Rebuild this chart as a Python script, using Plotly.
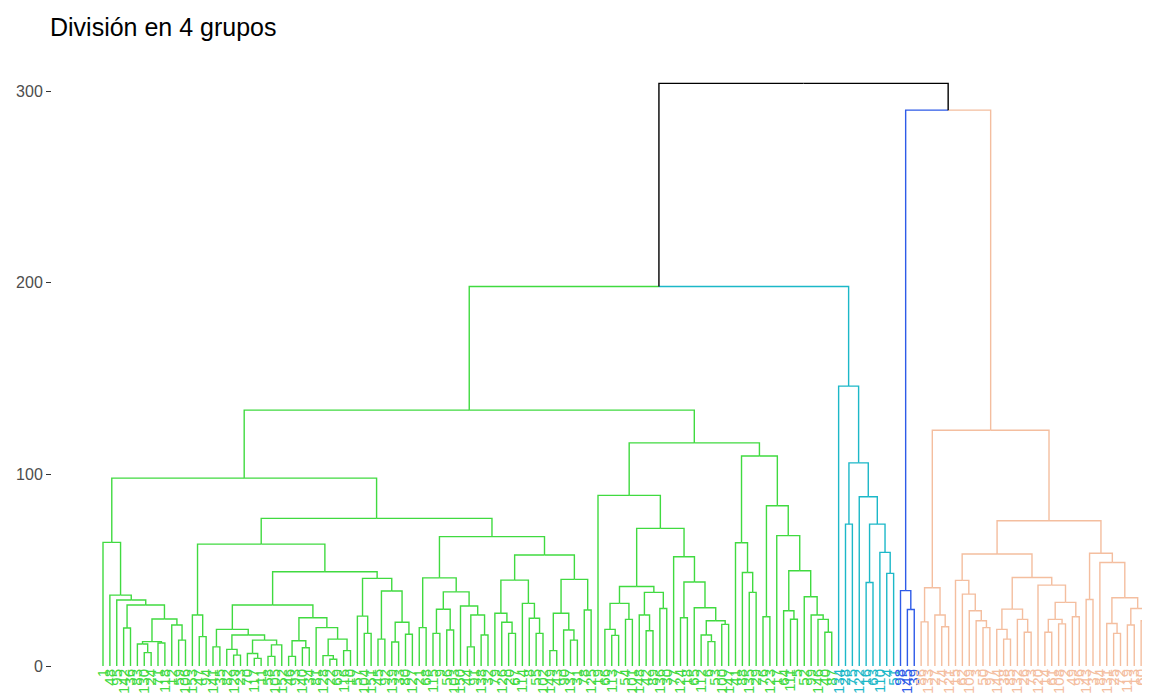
import plotly.graph_objects as go

title_text = "División en 4 grupos"
y_tick_values = [0, 100, 200, 300]

# ---- tree data: each internal node is [merge height, left, right]; 0 marks a leaf ----
# green cluster pieces
g_left_a = [64.5, 0, [37, 0, [34.4, 0, [31.8, [19.8, 0, 0],
            [24.5, [12.7, [11.5, 0, [7, 0, 0]], [12, 0, 0]], [21.4, 0, [13.5, 0, 0]]]]]]]
g_n199 = [26.6, 0, [15.3, 0, 0]]
g_n232 = [19.1, [10, 0, 0], [16.2, [8.7, 0, [5.7, 0, 0]],
          [13.5, [6.5, 0, [4, 0, 0]], [11, [5, 0, 0], 0]]]]
g_n310 = [25.2, [13.2, [5, 0, 0], [9.5, 0, 0]],
          [20, 0, [14, [5.4, 0, [3.5, 0, 0]], [8, 0, 0]]]]
g_n372 = [45.7, [26, 0, [17, 0, 0]], [39.1, [14, 0, 0], [22.8, [12.5, 0, 0], [16.6, 0, 0]]]]
g_left_b = [63.6, g_n199, [49.2, [31.8, g_n232, g_n310], g_n372]]
g_left_c_l = [46, [20, 0, 0], [38.7, [29.6, [17, 0, 0], [18.8, 0, 0]],
              [31.3, 0, [26.6, [10, 0, 0], [16.2, 0, 0]]]]]
g_left_c_r = [57.9, [44.8, [27.5, 0, [22.8, 0, [17, 0, 0]]], [32.7, 0, [24.9, 0, [17, 0, 0]]]],
              [45.2, [27.5, [8, 0, 0], [18.8, 0, [13.5, 0, 0]]], [29.2, 0, 0]]]
g_left_c = [67.5, g_left_c_l, g_left_c_r]
g_right_l = [89, 0, [71.8,
                     [41.5, [32.7, [19.1, 0, [16, 0, 0]], [24.3, 0, 0]],
                      [38.4, [26.6, 0, [18.4, 0, 0]], [30, 0, 0]]],
                     [57, 0, [43.8, [25.2, 0, 0],
                              [30.4, 0, [23.6, [16.2, 0, [12.7, 0, 0]], [21.7, 0, 0]]]]]]]
g_right_r = [109.6, [64.3, 0, [48.8, 0, [38.4, 0, 0]]],
             [83.6, [25.7, 0, 0],
              [68, 0, [49.7, [28.8, 0, [24.4, 0, 0]],
                       [36.1, 0, [26.6, 0, [24.3, 0, [17.6, 0, 0]]]]]]]]
green_tree = [133.5, [98, g_left_a, [77, g_left_b, g_left_c]], [116.4, g_right_l, g_right_r]]

cyan_tree = [146, 0, [106, [74, 0, 0], [88.3, 0, [74, [43.6, 0, 0], [59.3, 0, [48.3, 0, 0]]]]]]

blue_tree = [39.3, 0, [29.5, 0, 0]]

s_left = [40.8, [23, 0, 0], [26.6, 0, [20.5, 0, 0]]]
s_a = [44.7, 0, [37.5, 0, [28.8, 0, [23.6, 0, [20, 0, 0]]]]]
s_b = [29.7, [19.1, 0, [14, 0, 0]], [24.3, 0, [17.6, 0, 0]]]
s_c = [42.2, 0, [33.2, [24.3, [17.6, 0, 0], [22, 0, 0]], [25.7, 0, 0]]]
s_d = [58.8, [34.7, 0, 0], [54, 0, [35.6, [22.2, 0, [17, 0, 0]], [30, [21.4, 0, 0], [23.6, 0, 0]]]]]
salmon_tree = [123, s_left, [75.8, [58.4, s_a, [46.2, s_b, s_c]], s_d]]

# links above the 4-group cut
top_links = [304, [198, "green", "cyan"], [290, "blue", "salmon"]]

cluster_trees = {"green": green_tree, "cyan": cyan_tree, "blue": blue_tree, "salmon": salmon_tree}
cluster_colors = {"green": "#40DA40", "cyan": "#1CB8C8", "blue": "#2E5BE8", "salmon": "#F4BE9F"}
top_color = "#000000"

leaf_labels = [
    1, 48, 95, 142, 36, 83, 130, 24, 71, 118, 12, 59, 106, 153, 47, 94, 141, 35, 82, 129,
    23, 70, 117, 11, 58, 105, 152, 46, 93, 140, 34, 81, 128, 22, 69, 116, 10, 57, 104, 151,
    45, 92, 139, 33, 80, 127, 21, 68, 115, 9, 56, 103, 150, 44, 91, 138, 32, 79, 126, 20,
    67, 114, 8, 55, 102, 149, 43, 90, 137, 31, 78, 125, 19, 66, 113, 7, 54, 101, 148, 42,
    89, 136, 30, 77, 124, 18, 65, 112, 6, 53, 100, 147, 41, 88, 135, 29, 76, 123, 17, 64,
    111, 5, 52, 99, 146, 40, 87, 134, 28, 75, 122, 16, 63, 110, 4, 51, 98, 145, 39, 86,
    133, 27, 74, 121, 15, 62, 109, 3, 50, 97, 144, 38, 85, 132, 26, 73, 120, 14, 61, 108,
    2, 49, 96, 143, 37, 84, 131, 25, 72, 119, 13, 60, 107,
]

# ---- compute dendrogram geometry ----
segments = {}
leaf_colors = []
counter = [0]


def walk(node, color):
    if isinstance(node, str):
        return walk(cluster_trees[node], cluster_colors[node])
    if not isinstance(node, list):
        counter[0] += 1
        leaf_colors.append(color)
        return counter[0], 0.0, color
    h, left, right = node
    kids = [walk(left, color), walk(right, color)]
    x = (kids[0][0] + kids[1][0]) / 2.0
    for kx, kh, kc in kids:
        xs, ys = segments.setdefault(kc, ([], []))
        xs += [kx, kx, x, None]
        ys += [kh, h, h, None]
    return x, h, color


walk(top_links, top_color)
n_leaves = counter[0]

fig = go.Figure()
for col, (xs, ys) in segments.items():
    fig.add_trace(go.Scatter(x=xs, y=ys, mode="lines", line=dict(color=col, width=1.4),
                             hoverinfo="skip", showlegend=False))

tick_text = [f"<span style='color:{c}'>{lab}</span>" for lab, c in zip(leaf_labels, leaf_colors)]

# the page places the figure 8 px in from the window corner
off = 8
W, H = 1150 - off, 693 - off
left_px, right_px = 52 - off, 1150 - off
first_leaf_px, last_leaf_px = 103 - off, 1148 - off
px_per_leaf = (last_leaf_px - first_leaf_px) / (n_leaves - 1)
x_lo = 1 - (first_leaf_px - left_px) / px_per_leaf
x_hi = n_leaves + (right_px - last_leaf_px) / px_per_leaf

zero_px, top_px = 666 - off, 60 - off
px_per_unit = (666 - 91) / 300.0
y_hi = (zero_px - top_px) / px_per_unit

font_family = "Liberation Sans, Arial, sans-serif"

fig.update_layout(
    width=W, height=H,
    paper_bgcolor="white", plot_bgcolor="white",
    margin=dict(l=left_px, r=W - right_px, t=top_px, b=H - zero_px, autoexpand=False),
    title=dict(text=title_text, x=(50 - off) / W, xanchor="left", xref="container",
               y=1 - (27 - off) / H, yanchor="middle", yref="container",
               font=dict(family=font_family, size=25, color="#000000")),
    font=dict(family=font_family),
    xaxis=dict(range=[x_lo, x_hi], tickmode="array", tickvals=list(range(1, n_leaves + 1)),
               ticktext=tick_text, tickangle=-90, ticks="", showgrid=False, zeroline=False,
               showline=False, automargin=False, ticklabelstandoff=-1,
               tickfont=dict(size=15, family=font_family)),
    yaxis=dict(range=[0, y_hi], tickmode="array", tickvals=y_tick_values,
               ticktext=[str(v) for v in y_tick_values], ticks="outside", ticklen=5,
               tickwidth=1.1, tickcolor="#333333", showgrid=False, zeroline=False,
               showline=False, automargin=False,
               tickfont=dict(size=16, color="#4D4D4D", family=font_family)),
)

fig.write_html("out.html")
